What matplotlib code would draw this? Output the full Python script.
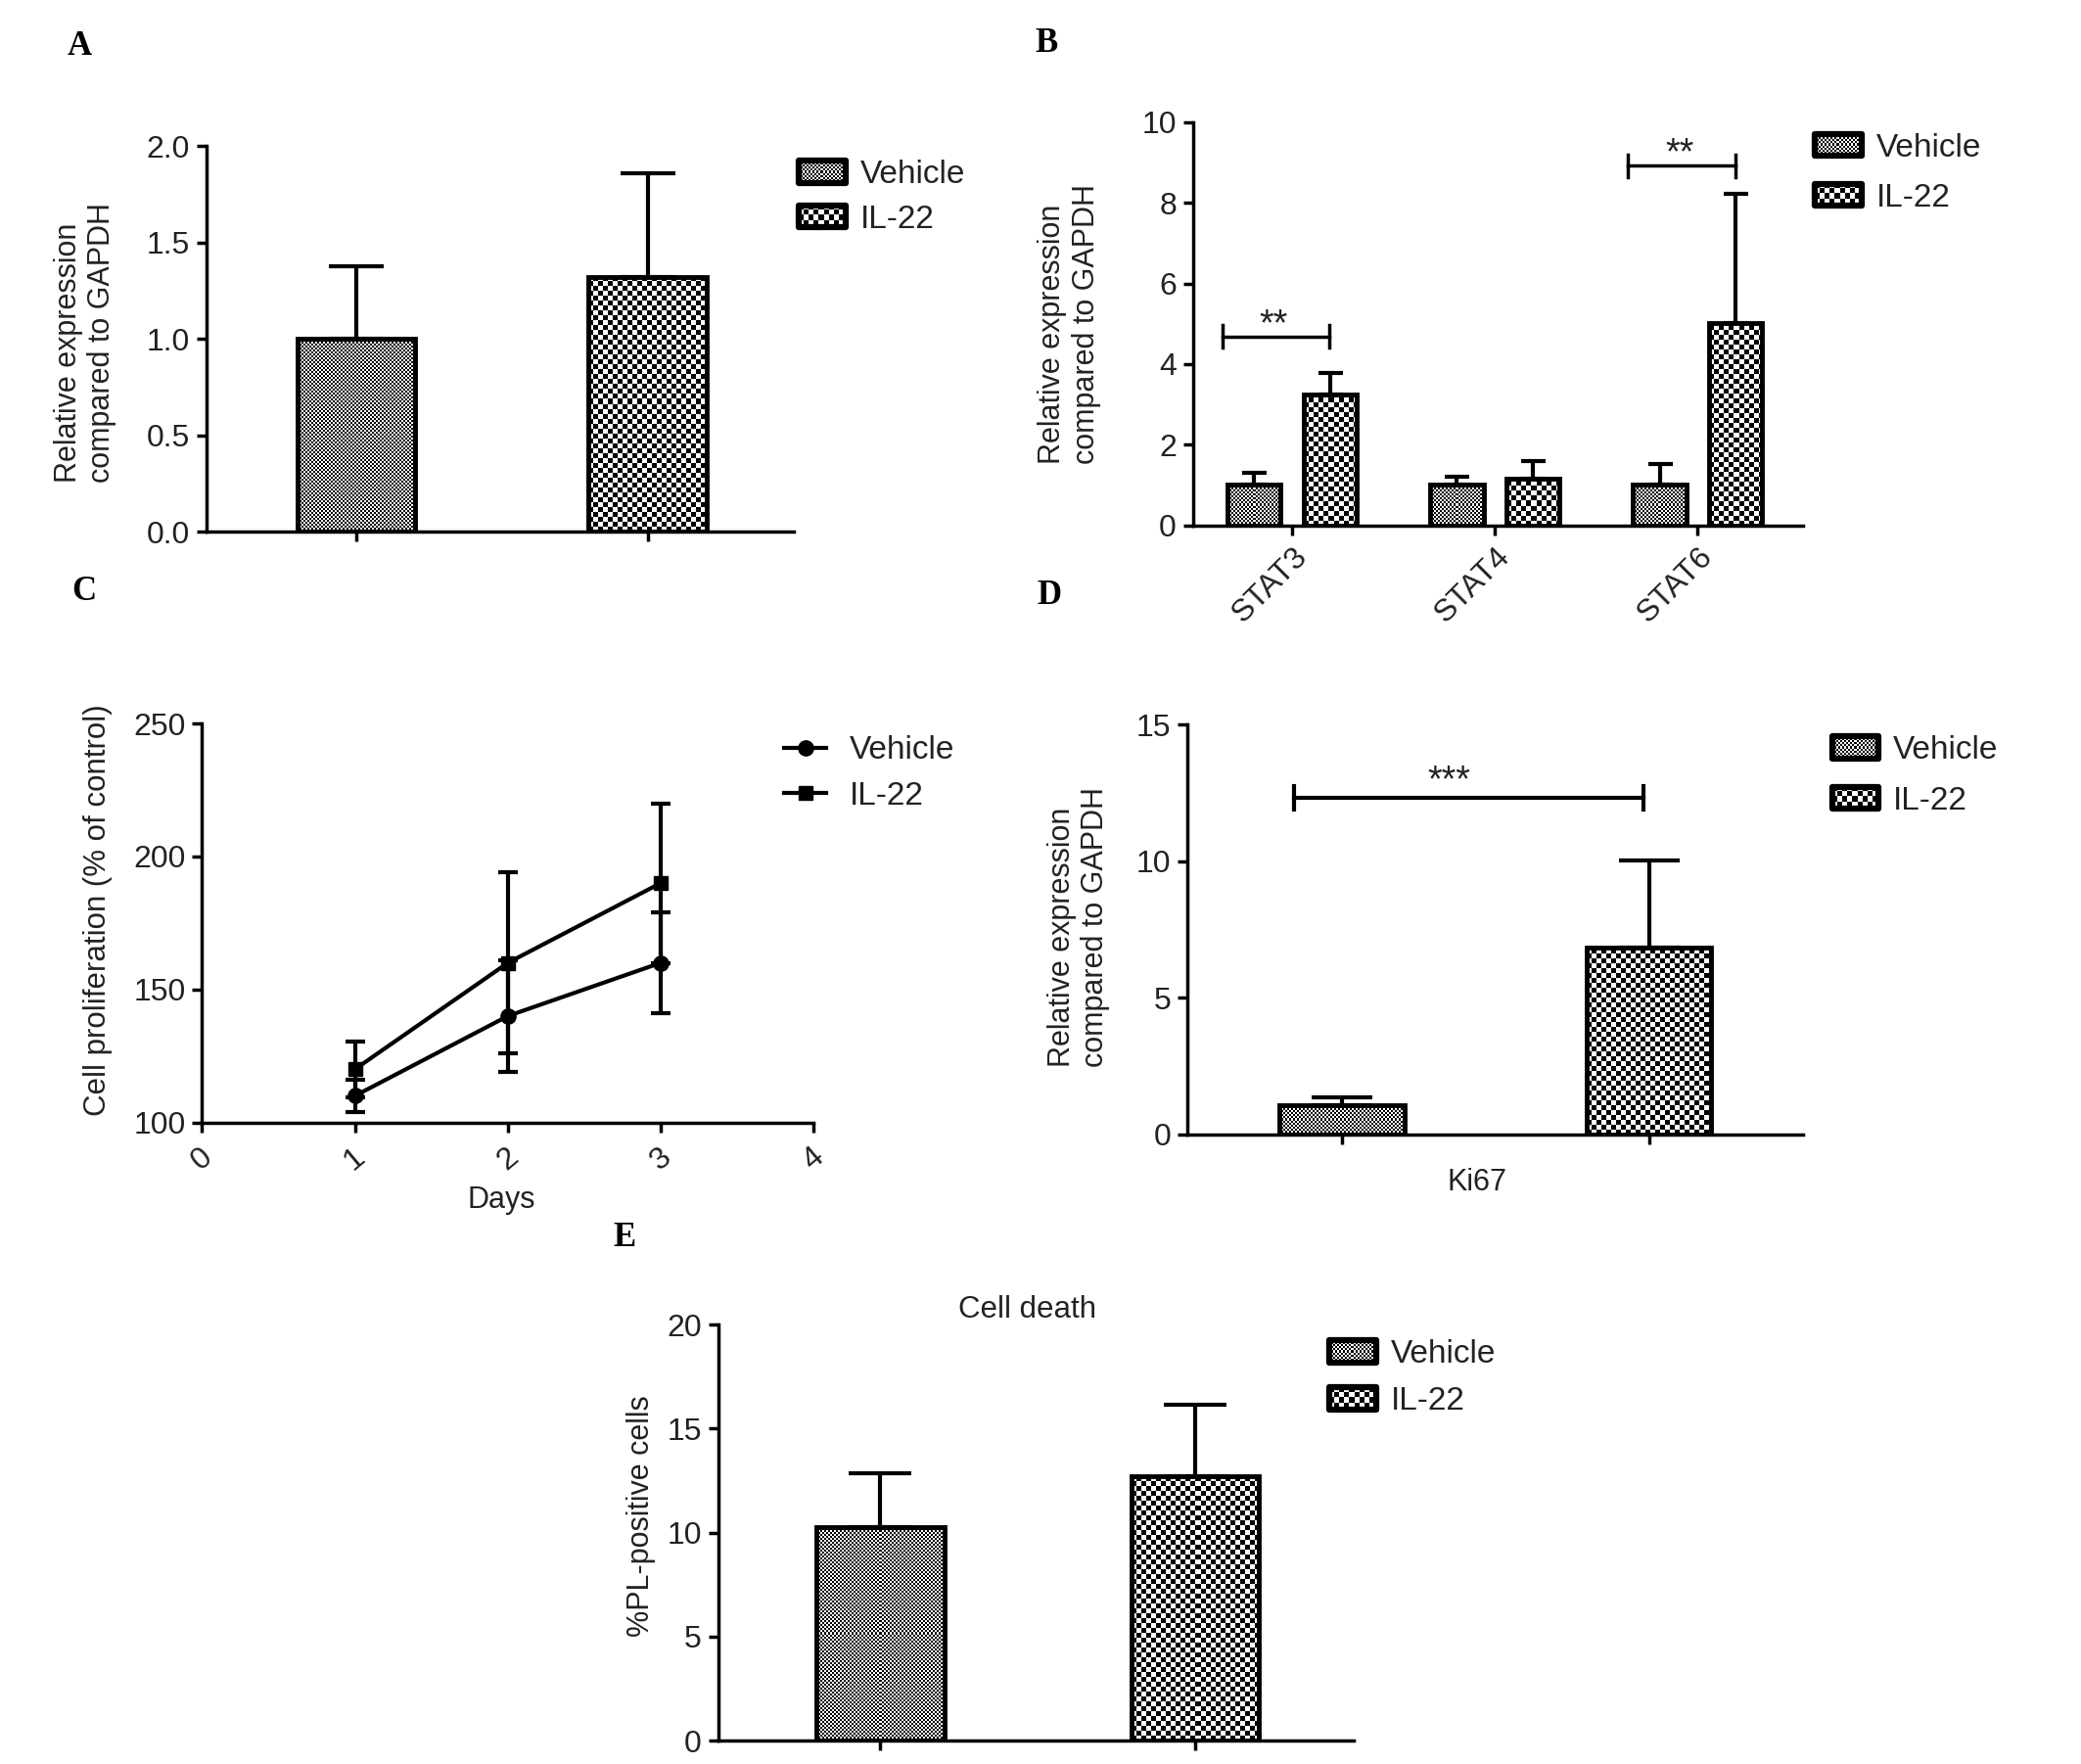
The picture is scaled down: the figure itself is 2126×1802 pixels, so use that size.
import numpy as np
import matplotlib
matplotlib.use('Agg')
import matplotlib.pyplot as plt
from matplotlib.patches import Rectangle
from matplotlib.lines import Line2D
from matplotlib.legend_handler import HandlerBase
from matplotlib.image import BboxImage
from matplotlib.transforms import Bbox, TransformedBbox
from matplotlib.colors import Normalize

# ---------------- data ----------------
groups = ['Vehicle', 'IL-22']

a_mean = [1.0, 1.32]
a_err = [0.38, 0.54]

b_genes = ['STAT3', 'STAT4', 'STAT6']
b_vehicle = [1.0, 1.0, 1.0]
b_vehicle_err = [0.31, 0.20, 0.53]
b_il22 = [3.24, 1.15, 5.02]
b_il22_err = [0.53, 0.44, 3.20]
b_sig_group = [0, 2]
b_sig_y = [4.68, 8.92]
b_sig_text = ['**', '**']

c_days = [1, 2, 3]
c_vehicle = [110, 140, 160]
c_vehicle_err = [6, 21, 19]
c_il22 = [120, 160, 190]
c_il22_err = [10.5, 34, 30]
c_xticks = [0, 1, 2, 3, 4]

d_gene = 'Ki67'
d_mean = [1.05, 6.84]
d_err = [0.30, 3.20]
d_sig_y = 12.33
d_sig_text = '***'

e_mean = [10.26, 12.69]
e_err = [2.60, 3.44]

# ---------------- style ----------------
W, H, DPI = 2126, 1802, 100
plt.rcParams['font.family'] = ['Liberation Sans', 'DejaVu Sans']
plt.rcParams['font.size'] = 22
TXT = '#222222'
SPINE_LW = 2.5
BAR_LW = 3.5
ERR_LW = 3.0
TICK_FS = 23
LEG_FS = 24
CELL = {'Vehicle': 2, 'IL-22': 5}

fig = plt.figure(figsize=(W / DPI, H / DPI), dpi=DPI)
fig.patch.set_facecolor('white')

SW = 1565.0  # reference display width used for measurements


def fx(xd):
    return xd / SW


def fy(yd):
    return 1 - yd * (W / SW) / H


def make_axes(x0, y_bottom, x1, y_top):
    return fig.add_axes([fx(x0), fy(y_bottom), fx(x1) - fx(x0), fy(y_top) - fy(y_bottom)])


def style_axes(ax):
    for s in ['top', 'right']:
        ax.spines[s].set_visible(False)
    for s in ['left', 'bottom']:
        ax.spines[s].set_linewidth(SPINE_LW)
        ax.spines[s].set_color('black')
        ax.spines[s].set_capstyle('projecting')
    ax.tick_params(direction='out', length=7, width=SPINE_LW, colors='black',
                   labelcolor=TXT, labelsize=TICK_FS, pad=5)
    ax.set_facecolor('none')


def checker(nx, ny, c):
    i = np.arange(ny)[:, None] // c
    j = np.arange(nx)[None, :] // c
    return ((i + j) % 2).astype(float)


def fill_bar(ax, rect, c):
    x0, y0 = rect.get_x(), rect.get_y()
    x1, y1 = x0 + rect.get_width(), y0 + rect.get_height()
    p0 = ax.transData.transform((x0, y0))
    p1 = ax.transData.transform((x1, y1))
    nx = max(1, int(round(abs(p1[0] - p0[0]))))
    ny = max(1, int(round(abs(p1[1] - p0[1]))))
    ax.imshow(checker(nx, ny, c), extent=[x0, x1, y0, y1], cmap='gray', vmin=0, vmax=1,
              interpolation='nearest', aspect='auto', origin='lower', zorder=2)


def draw_bars(ax, xs, vals, errs, width, cell, capsize):
    bars = ax.bar(xs, vals, width, facecolor='none', edgecolor='black', linewidth=BAR_LW,
                  zorder=3, joinstyle='miter')
    for r in bars:
        fill_bar(ax, r, cell)
    ax.errorbar(xs, vals, yerr=[[0] * len(vals), errs], fmt='none', ecolor='black',
                elinewidth=ERR_LW, capsize=capsize, capthick=ERR_LW, zorder=2.5)
    return bars


class CheckerHandler(HandlerBase):
    def __init__(self, cell):
        super().__init__()
        self.cell = cell

    def create_artists(self, legend, orig_handle, xdescent, ydescent, width, height,
                       fontsize, trans):
        bb = TransformedBbox(Bbox.from_bounds(-xdescent, -ydescent, width, height), trans)
        img = BboxImage(bb, cmap='gray', norm=Normalize(0, 1), interpolation='nearest')
        pw = max(1, int(round(width * DPI / 72)))
        ph = max(1, int(round(height * DPI / 72)))
        img.set_data(checker(pw, ph, self.cell))
        rect = Rectangle((-xdescent, -ydescent), width, height, facecolor='none',
                         edgecolor='black', linewidth=4.5, joinstyle='round', transform=trans)
        return [img, rect]


def bar_legend(ax, xd, yd, spacing):
    h1 = Rectangle((0, 0), 1, 1, label=groups[0])
    h2 = Rectangle((0, 0), 1, 1, label=groups[1])
    ax.legend(handles=[h1, h2], labels=groups,
              handler_map={h1: CheckerHandler(CELL['Vehicle']), h2: CheckerHandler(CELL['IL-22'])},
              loc='upper left', bbox_to_anchor=(fx(xd), fy(yd) + 19.0 / H),
              bbox_transform=fig.transFigure, frameon=False, borderpad=0, borderaxespad=0,
              handlelength=1.42, handleheight=0.66, handletextpad=0.45,
              labelspacing=spacing, fontsize=LEG_FS, labelcolor=TXT)


def panel_label(letter, xd, yd):
    fig.text(fx(xd), fy(yd), letter, ha='center', va='center', fontsize=25,
             fontweight='bold', family=['Liberation Serif', 'DejaVu Serif'], color='black')


# ---------------- Panel A ----------------
axA = make_axes(155, 400, 597, 110)
style_axes(axA)
axA.set_xlim(-0.516, 1.502)
axA.set_ylim(0, 2.0)
axA.set_yticks([0, 0.5, 1.0, 1.5, 2.0])
axA.set_yticklabels(['0.0', '0.5', '1.0', '1.5', '2.0'])
draw_bars(axA, [0], [a_mean[0]], [a_err[0]], 0.406, CELL['Vehicle'], 20)
draw_bars(axA, [1], [a_mean[1]], [a_err[1]], 0.406, CELL['IL-22'], 20)
axA.set_xticks([0, 1])
axA.set_xticklabels(['', ''])
axA.set_xlim(-0.516, 1.502)
axA.set_ylim(0, 2.0)
axA.set_ylabel('Relative expression\ncompared to GAPDH', color=TXT, fontsize=22,
               multialignment='left')
axA.yaxis.set_label_coords(-0.152, 0.49)
bar_legend(axA, 601, 134, 0.44)
panel_label('A', 60, 35)

# ---------------- Panel B ----------------
axB = make_axes(897, 395, 1356, 92)
style_axes(axB)
bxl = (-0.49, 2.52)
axB.set_xlim(*bxl)
axB.set_ylim(0, 10)
xg = np.arange(len(b_genes))
off = 0.1875
bw = 0.262
draw_bars(axB, xg - off, b_vehicle, b_vehicle_err, bw, CELL['Vehicle'], 9)
draw_bars(axB, xg + off, b_il22, b_il22_err, bw, CELL['IL-22'], 9)
axB.set_xlim(*bxl)
axB.set_ylim(0, 10)
axB.set_yticks([0, 2, 4, 6, 8, 10])
axB.set_xticks(xg)
axB.set_xticklabels(b_genes, rotation=45, ha='right', va='top', rotation_mode='anchor')
for g, yv, t in zip(b_sig_group, b_sig_y, b_sig_text):
    x0, x1 = g - 0.345, g + 0.185
    axB.plot([x0, x1], [yv, yv], color='black', lw=2.5, zorder=4)
    axB.plot([x0, x0], [yv - 0.28, yv + 0.28], color='black', lw=2.5, zorder=4)
    axB.plot([x1, x1], [yv - 0.28, yv + 0.28], color='black', lw=2.5, zorder=4)
    axB.text(g - 0.09, yv + 0.05, t, ha='center', va='baseline', fontsize=27, color=TXT)
axB.set_ylabel('Relative expression\ncompared to GAPDH', color=TXT, fontsize=22,
               multialignment='left')
axB.yaxis.set_label_coords(-0.150, 0.50)
bar_legend(axB, 1365, 114, 0.6)
panel_label('B', 787, 33)

# ---------------- Panel C ----------------
axC = make_axes(152, 844, 612, 544)
style_axes(axC)
axC.errorbar(c_days, c_vehicle, yerr=c_vehicle_err, color='black', lw=3, marker='o',
             markersize=11, elinewidth=ERR_LW, capsize=7, capthick=ERR_LW, label=groups[0],
             zorder=3, clip_on=False)
axC.errorbar(c_days, c_il22, yerr=c_il22_err, color='black', lw=3, marker='s',
             markersize=10, elinewidth=ERR_LW, capsize=7, capthick=ERR_LW, label=groups[1],
             zorder=3, clip_on=False)
axC.set_xlim(0, 4)
axC.set_ylim(100, 250)
axC.set_xticks(c_xticks)
axC.set_xticklabels([str(v) for v in c_xticks], rotation=40, ha='center', va='top')
axC.set_yticks([100, 150, 200, 250])
axC.tick_params(axis='x', pad=8)
axC.set_xlabel('Days', color=TXT, fontsize=22)
axC.xaxis.set_label_coords(0.489, -0.157)
axC.set_ylabel('Cell proliferation (% of control)', color=TXT, fontsize=22.5)
axC.yaxis.set_label_coords(-0.146, 0.533)
hv = Line2D([], [], color='black', lw=3, marker='o', markersize=11)
hi = Line2D([], [], color='black', lw=3, marker='s', markersize=10)
axC.legend([hv, hi], groups, loc='upper left', bbox_to_anchor=(fx(590), fy(567) + 19.0 / H),
           bbox_transform=fig.transFigure, frameon=False, borderpad=0, borderaxespad=0,
           handlelength=1.28, handletextpad=0.7, labelspacing=0.47, fontsize=LEG_FS,
           labelcolor=TXT)
panel_label('C', 63, 445)

# ---------------- Panel D ----------------
axD = make_axes(893, 853, 1356, 545)
style_axes(axD)
dxl = (-0.502, 1.502)
axD.set_xlim(*dxl)
axD.set_ylim(0, 15)
draw_bars(axD, [0], [d_mean[0]], [d_err[0]], 0.407, CELL['Vehicle'], 22)
draw_bars(axD, [1], [d_mean[1]], [d_err[1]], 0.407, CELL['IL-22'], 22)
axD.set_xlim(*dxl)
axD.set_ylim(0, 15)
axD.set_yticks([0, 5, 10, 15])
axD.set_xticks([0, 1])
axD.set_xticklabels(['', ''])
x0, x1 = -0.156, 0.983
axD.plot([x0, x1], [d_sig_y, d_sig_y], color='black', lw=3, zorder=4)
axD.plot([x0, x0], [d_sig_y - 0.43, d_sig_y + 0.43], color='black', lw=3, zorder=4)
axD.plot([x1, x1], [d_sig_y - 0.43, d_sig_y + 0.43], color='black', lw=3, zorder=4)
axD.text(0.35, d_sig_y + 0.25, d_sig_text, ha='center', va='baseline', fontsize=27, color=TXT)
axD.set_xlabel(d_gene, color=TXT, fontsize=22)
axD.xaxis.set_label_coords(0.471, -0.081)
axD.set_ylabel('Relative expression\ncompared to GAPDH', color=TXT, fontsize=22,
               multialignment='left')
axD.yaxis.set_label_coords(-0.125, 0.506)
bar_legend(axD, 1378, 567, 0.62)
panel_label('D', 789, 448)

# ---------------- Panel E ----------------
axE = make_axes(540, 1309, 1018, 996)
style_axes(axE)
exl = (-0.515, 1.502)
axE.set_xlim(*exl)
axE.set_ylim(0, 20)
draw_bars(axE, [0], [e_mean[0]], [e_err[0]], 0.405, CELL['Vehicle'], 23)
draw_bars(axE, [1], [e_mean[1]], [e_err[1]], 0.405, CELL['IL-22'], 23)
axE.set_xlim(*exl)
axE.set_ylim(0, 20)
axE.set_yticks([0, 5, 10, 15, 20])
axE.set_xticks([0, 1])
axE.set_xticklabels(['', ''])
axE.set_title('Cell death', x=0.487, pad=2, fontsize=22.5, color=TXT)
axE.set_ylabel('%PL-positive cells', color=TXT, fontsize=22)
axE.yaxis.set_label_coords(-0.098, 0.54)
bar_legend(axE, 1000, 1021, 0.52)
panel_label('E', 470, 931)

fig.savefig('out.png', dpi=DPI, facecolor='white')
